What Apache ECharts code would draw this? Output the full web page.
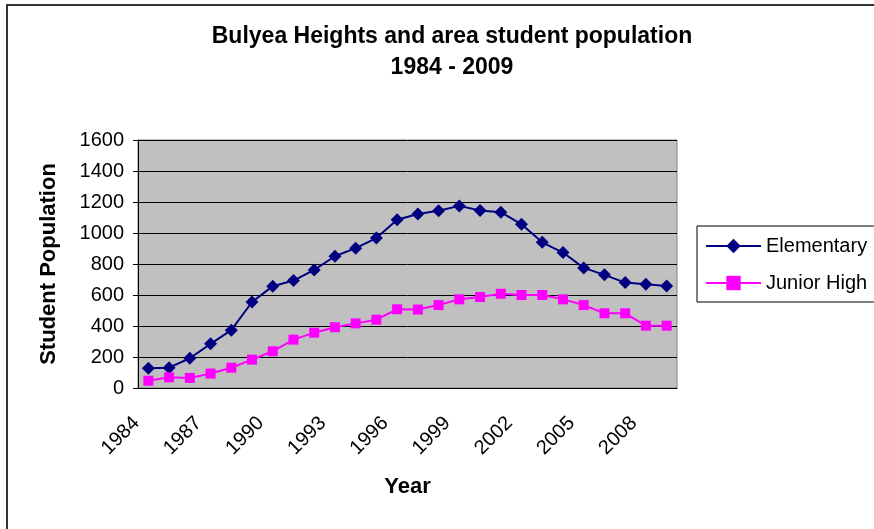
<!DOCTYPE html>
<html>
<head>
<meta charset="utf-8">
<script src="https://cdn.jsdelivr.net/npm/echarts@6.0.0/dist/echarts.min.js"></script>
<style>
  html, body { margin: 0; padding: 0; background: #fff; }
  #chart { width: 874px; height: 529px; }
</style>
</head>
<body>
<div id="chart"></div>
<script>
  // values
  var years = [
    "1984", "1985", "1986", "1987", "1988", "1989", "1990", "1991", "1992",
    "1993", "1994", "1995", "1996", "1997", "1998", "1999", "2000", "2001",
    "2002", "2003", "2004", "2005", "2006", "2007", "2008", "2009"
  ];
  var elementary = [
    128, 131, 192, 285, 373, 555, 657, 693, 762, 850, 902, 967, 1085,
    1123, 1144, 1175, 1145, 1134, 1056, 940, 874, 775, 730, 680, 670, 658
  ];
  var juniorHigh = [
    47, 69, 65, 93, 131, 183, 237, 312, 357, 392, 417, 441, 508,
    506, 535, 572, 587, 608, 600, 600, 572, 535, 482, 482, 402, 402
  ];

  var font = "Arial, 'Liberation Sans', sans-serif";

  var chart = echarts.init(document.getElementById("chart"));

  chart.setOption({
    backgroundColor: "#fff",
    animation: false,
    textStyle: { fontFamily: font },
    title: {
      text: "Bulyea Heights and area student population\n1984 - 2009",
      left: 447,
      top: 16,
      textAlign: "center",
      textStyle: {
        fontFamily: font,
        fontSize: 23,
        fontWeight: "bold",
        color: "#000",
        lineHeight: 31
      }
    },
    graphic: [{
      type: "rect",
      shape: { x: 7, y: 5, width: 900, height: 600 },
      style: { fill: null, stroke: "#333", lineWidth: 2 },
      silent: true
    }],
    legend: {
      orient: "vertical",
      left: 697,
      top: 226,
      itemWidth: 55,
      itemHeight: 18,
      itemGap: 17,
      padding: [10, 30, 9, 8],
      borderColor: "#000",
      borderWidth: 1,
      textStyle: { fontFamily: font, fontSize: 20, color: "#000" },
      data: ["Elementary", "Junior High"]
    },
    grid: {
      left: 138,
      top: 140,
      width: 539,
      height: 248,
      show: true,
      backgroundColor: "#C0C0C0",
      borderColor: "#808080",
      borderWidth: 1
    },
    xAxis: {
      type: "category",
      data: years,
      boundaryGap: true,
      name: "Year",
      nameLocation: "middle",
      nameGap: 88,
      nameTextStyle: { fontFamily: font, fontSize: 22, fontWeight: "bold", color: "#000" },
      axisLine: { lineStyle: { color: "#000", width: 1 } },
      axisTick: { interval: 0, length: 5, lineStyle: { color: "#000" } },
      axisLabel: {
        interval: 2,
        rotate: 45,
        margin: 20,
        padding: [0, 17, 0, 0],
        fontFamily: font,
        fontSize: 20,
        color: "#000"
      },
      splitLine: { show: false }
    },
    yAxis: {
      type: "value",
      min: 0,
      max: 1600,
      interval: 200,
      name: "Student Population",
      nameLocation: "middle",
      nameGap: 78,
      nameRotate: 90,
      nameTextStyle: { fontFamily: font, fontSize: 22, fontWeight: "bold", color: "#000" },
      axisLine: { show: true, lineStyle: { color: "#000", width: 1 } },
      axisTick: { show: true, length: 5, lineStyle: { color: "#000" } },
      axisLabel: {
        margin: 14,
        fontFamily: font,
        fontSize: 20,
        color: "#000",
        formatter: function (v) { return String(v); }
      },
      splitLine: { show: true, lineStyle: { color: "#000", width: 1 } }
    },
    series: [
      {
        name: "Elementary",
        type: "line",
        data: elementary,
        symbol: "diamond",
        symbolSize: 13,
        lineStyle: { color: "#000080", width: 2 },
        itemStyle: { color: "#000080" }
      },
      {
        name: "Junior High",
        type: "line",
        data: juniorHigh,
        symbol: "rect",
        symbolSize: 10,
        lineStyle: { color: "#FF00FF", width: 2 },
        itemStyle: { color: "#FF00FF" }
      }
    ]
  });
</script>
</body>
</html>
